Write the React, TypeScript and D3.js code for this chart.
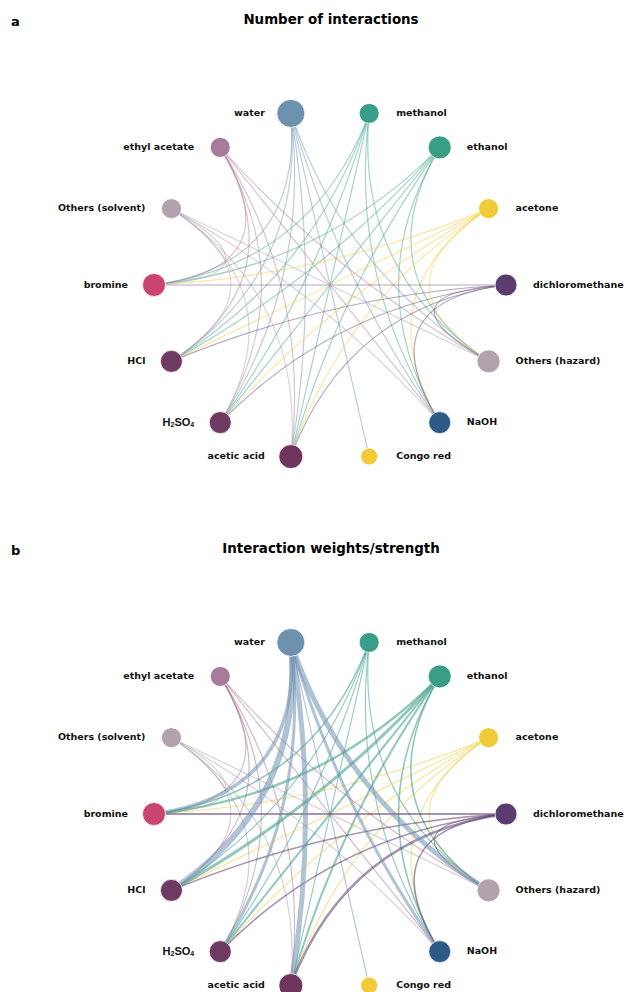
import * as d3 from "d3";

// nodes, clockwise from the top (water sits just left of 12 o'clock)
const nodeNames = [
  "water", "methanol", "ethanol", "acetone", "dichloromethane",
  "Others (hazard)", "NaOH", "Congo red", "acetic acid", "H2SO4",
  "HCl", "bromine", "Others (solvent)", "ethyl acetate",
];
const nodeSize = [14, 10, 11.5, 10, 11, 11.5, 11, 8.5, 12, 11, 11, 11.5, 10, 10];
const nodeColor = [
  "#6f91b0", "#3a9d8a", "#3a9d86", "#f1cc38", "#5c3c6e",
  "#b2a2ad", "#2e5a87", "#f1cc38", "#6e365e", "#6e3a61",
  "#6e3a61", "#c94570", "#b2a2ad", "#a97a9c",
];

// solvent -> hazard links with estimated weights
const solvents = ["water", "methanol", "ethanol", "acetone", "dichloromethane", "ethyl acetate", "Others (solvent)"];
const hazards = ["Others (hazard)", "NaOH", "Congo red", "acetic acid", "H2SO4", "HCl", "bromine"];
// rows = solvents, cols = hazards, 0 = no link
const weights = [
  [5, 3, 1, 5, 3, 6, 3.5],
  [1, 1, 0, 1, 1, 1, 1.5],
  [1.5, 1.5, 0, 2, 2, 3, 2.5],
  [1, 1, 0, 1, 1, 1, 1],
  [1, 1.5, 0, 2.5, 1.5, 1.5, 2],
  [1, 1, 0, 1, 1, 1, 1],
  [1, 1, 0, 1, 1, 1, 1],
];

const panels = [
  { letter: "a", title: "Number of interactions", top: 0, weighted: false },
  { letter: "b", title: "Interaction weights/strength", top: 529, weighted: true },
];

const W = 624, H = 992;
const R = 176;
const cx = 330, cy0 = 285;
// how far the bezier control point sits from the centre towards the chord midpoint
const bend = 0.25;

const angle = d3.scaleLinear().domain([0, nodeNames.length]).range([-Math.PI / 14, 2 * Math.PI - Math.PI / 14]);
const widthScale = d3.scaleLinear().domain([1, 6]).range([1.1, 6]);

type Link = { s: number; t: number; w: number };
const links: Link[] = [];
solvents.forEach((s, i) =>
  hazards.forEach((h, j) => {
    if (weights[i][j] > 0) links.push({ s: nodeNames.indexOf(s), t: nodeNames.indexOf(h), w: weights[i][j] });
  })
);

function Label({ name, x, y, right }: { name: string; x: number; y: number; right: boolean }) {
  const common = {
    x,
    y,
    textAnchor: right ? "start" : "end",
    dominantBaseline: "middle",
    fontFamily: "DejaVu Sans",
    fontWeight: "bold",
    fontSize: 9.5,
    fill: "#111",
  } as const;
  if (name === "H2SO4") {
    return (
      <text {...common} fontFamily="Liberation Sans" fontSize={11}>
        H<tspan fontSize={7} dy={2}>2</tspan>
        <tspan dy={-2}>SO</tspan>
        <tspan fontSize={7} dy={2}>4</tspan>
      </text>
    );
  }
  return <text {...common}>{name}</text>;
}

function Panel({ p }: { p: (typeof panels)[number] }) {
  const cy = cy0 + p.top;
  const pos = nodeNames.map((_, i) => {
    const a = angle(i);
    return { x: cx + R * Math.sin(a), y: cy - R * Math.cos(a) };
  });
  const sorted = p.weighted ? [...links].sort((a, b) => a.w - b.w) : links;
  return (
    <g>
      <text x={11} y={p.top + 26} fontFamily="DejaVu Sans" fontWeight="bold" fontSize={13}>
        {p.letter}
      </text>
      <text x={331} y={p.top + 24} textAnchor="middle" fontFamily="DejaVu Sans" fontWeight="bold" fontSize={13.4}>
        {p.title}
      </text>
      {sorted.map((l, k) => {
        const a = pos[l.s], b = pos[l.t];
        const qx = cx + bend * ((a.x + b.x) / 2 - cx);
        const qy = cy + bend * ((a.y + b.y) / 2 - cy);
        const path = d3.path();
        path.moveTo(a.x, a.y);
        path.quadraticCurveTo(qx, qy, b.x, b.y);
        return (
          <path
            key={k}
            d={path.toString()}
            fill="none"
            stroke={nodeColor[l.s]}
            strokeOpacity={p.weighted ? 0.55 : 0.45}
            strokeWidth={p.weighted ? widthScale(l.w) : 1.2}
          />
        );
      })}
      {nodeNames.map((n, i) => (
        <circle key={n} cx={pos[i].x} cy={pos[i].y} r={nodeSize[i]} fill={nodeColor[i]} stroke="#fff" strokeWidth={0.8} />
      ))}
      {nodeNames.map((n, i) => {
        const right = pos[i].x > cx;
        return <Label key={n} name={n} x={pos[i].x + (right ? 27 : -26)} y={pos[i].y} right={right} />;
      })}
    </g>
  );
}

export default function App() {
  return (
    <svg width={W} height={H} style={{ position: "absolute", left: 0, top: 0, background: "#fff" }}>
      {panels.map((p) => (
        <Panel key={p.letter} p={p} />
      ))}
    </svg>
  );
}
